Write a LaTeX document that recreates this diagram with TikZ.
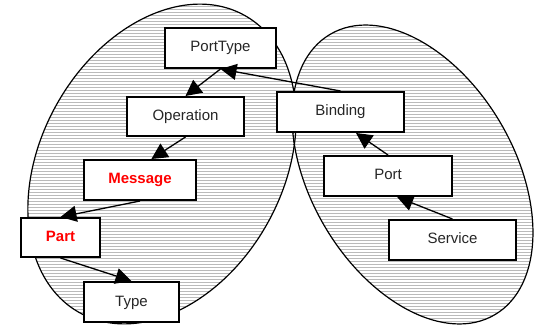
\documentclass[tikz,border=0pt]{standalone}
\usepackage{fontspec}
\setmainfont{Liberation Sans}
\usetikzlibrary{arrows.meta,calc}
\definecolor{hatchgray}{RGB}{186,186,186}
\tikzset{
  hatchline/.style={draw=white,line width=1.1pt},
  outline/.style={draw=black,line width=1.2pt},
  box/.style={draw=black,line width=2pt,fill=white,inner sep=0pt,minimum height=40pt,
    font=\fontsize{15pt}{17pt}\selectfont,text height=11pt,text depth=3pt,text=black!85},
  redbox/.style={box,font=\fontsize{15pt}{17pt}\selectfont\bfseries,text=red},
  conn/.style={draw=black,line width=1.3pt,-{Triangle[length=16pt,width=16pt]}}
}
\begin{document}
\begin{tikzpicture}[x=1pt,y=1pt]
\useasboundingbox (0,0) rectangle (534,326);
% ellipses (hatched fill)
\begin{scope}
  \clip (162,162) ellipse [x radius=170, y radius=121, rotate=61];
  \fill[hatchgray] (0,0) rectangle (534,326);
  \foreach \yy in {0,3,...,327} {\draw[hatchline] (0,\yy) -- (534,\yy);}
\end{scope}
\begin{scope}
  \clip (412.5,151.5) ellipse [x radius=162.6, y radius=102, rotate=-59.6];
  \fill[hatchgray] (0,0) rectangle (534,326);
  \foreach \yy in {0,3,...,327} {\draw[hatchline] (0,\yy) -- (534,\yy);}
\end{scope}
\draw[outline] (162,162) ellipse [x radius=170, y radius=121, rotate=61];
\draw[outline] (412.5,151.5) ellipse [x radius=162.6, y radius=102, rotate=-59.6];
\draw[line width=0.8pt,dotted] (293,193) -- (294,178);
% boxes
\node[box,minimum width=111pt] (porttype) at (220.5,278) {PortType};
\node[box,minimum width=117pt,minimum height=39pt] (operation) at (185.5,209.5) {Operation};
\node[redbox,minimum width=112pt] (message) at (140,146) {Message};
\node[redbox,minimum width=79pt,minimum height=39pt] (part) at (60.5,88.5) {Part};
\node[box,minimum width=95pt] (type) at (131.5,24) {Type};
\node[box,minimum width=127pt] (binding) at (340.5,214) {Binding};
\node[box,minimum width=128pt] (port) at (388,150) {Port};
\node[box,minimum width=127pt] (service) at (452.5,86) {Service};
% connectors
\draw[conn] (binding.north) -- (porttype.south);
\draw[conn] (porttype.south) -- (operation.north);
\draw[conn] (operation.south) -- ($(message.north west)!0.6!(message.north east)$);
\draw[conn] (message.south) -- (part.north);
\draw[conn] (part.south) -- (type.north);
\draw[conn] (port.north) -- ($(binding.south west)!0.62!(binding.south east)$);
\draw[conn] (service.north) -- ($(port.south west)!0.57!(port.south east)$);
\end{tikzpicture}
\end{document}
